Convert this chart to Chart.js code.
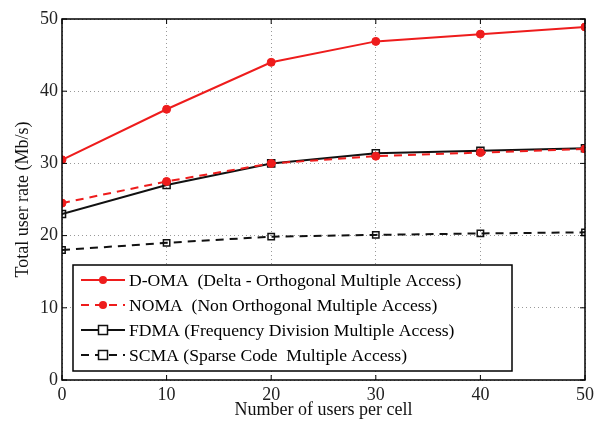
<!DOCTYPE html>
<html>
<head>
<meta charset="utf-8">
<script src="https://cdn.jsdelivr.net/npm/chart.js@4"></script>
<style>
  html, body { margin: 0; padding: 0; background: #fff; }
  #wrap { width: 598px; height: 421px; }
</style>
</head>
<body>
<div id="wrap"><canvas id="myChart" width="598" height="421"></canvas></div>
<script>
// Data
const users = [0, 10, 20, 30, 40, 50];
const domaRate = [30.5, 37.5, 44, 46.9, 47.9, 48.9];
const nomaRate = [24.5, 27.5, 30, 31.0, 31.5, 32.0];
const fdmaRate = [23, 27, 30, 31.4, 31.75, 32.1];
const scmaRate = [18, 19, 19.85, 20.1, 20.3, 20.45];
const yTicks = [0, 10, 20, 30, 40, 50];
const seriesNames = [
    'D-OMA  (Delta - Orthogonal Multiple Access)',
    'NOMA  (Non Orthogonal Multiple Access)',
    'FDMA (Frequency Division Multiple Access)',
    'SCMA (Sparse Code  Multiple Access)'
];

const FONT = '"Liberation Serif", "Times New Roman", serif';
const RED = '#ee1c1c';

function pts(ys) {
    return users.map((u, i) => ({ x: u, y: ys[i] }));
}

const datasets = [
    { label: seriesNames[0], data: pts(domaRate), borderColor: RED, backgroundColor: RED,
      borderWidth: 2, pointStyle: 'circle', pointRadius: 4, pointBorderWidth: 1 },
    { label: seriesNames[1], data: pts(nomaRate), borderColor: RED, backgroundColor: RED,
      borderWidth: 2, borderDash: [8, 6], pointStyle: 'circle', pointRadius: 4, pointBorderWidth: 1 },
    { label: seriesNames[2], data: pts(fdmaRate), borderColor: '#111', backgroundColor: 'rgba(0,0,0,0)',
      borderWidth: 2, pointStyle: 'rect', pointRadius: 5, pointBorderWidth: 1.5 },
    { label: seriesNames[3], data: pts(scmaRate), borderColor: '#111', backgroundColor: 'rgba(0,0,0,0)',
      borderWidth: 2, borderDash: [8, 6], pointStyle: 'rect', pointRadius: 4.5, pointBorderWidth: 1.5 }
];

// frame, inward tick marks and the boxed legend (matlab style)
const framePlugin = {
    id: 'frame',
    afterDraw(chart) {
        const { ctx, chartArea: a, scales } = chart;
        ctx.save();
        ctx.strokeStyle = '#000';
        ctx.lineWidth = 1.5;
        ctx.setLineDash([]);
        ctx.strokeRect(a.left, a.top, a.right - a.left, a.bottom - a.top);
        ctx.lineWidth = 1;
        users.forEach(v => {
            const x = scales.x.getPixelForValue(v);
            ctx.beginPath();
            ctx.moveTo(x, a.bottom); ctx.lineTo(x, a.bottom - 5);
            ctx.moveTo(x, a.top); ctx.lineTo(x, a.top + 5);
            ctx.stroke();
        });
        yTicks.forEach(v => {
            const y = scales.y.getPixelForValue(v);
            ctx.beginPath();
            ctx.moveTo(a.left, y); ctx.lineTo(a.left + 5, y);
            ctx.moveTo(a.right, y); ctx.lineTo(a.right - 5, y);
            ctx.stroke();
        });

        // legend box
        const bx = a.left + 11, by = 265, bw = 439, bh = 106;
        ctx.fillStyle = '#fff';
        ctx.fillRect(bx, by, bw, bh);
        ctx.lineWidth = 1.5;
        ctx.strokeStyle = '#000';
        ctx.strokeRect(bx, by, bw, bh);
        const rows = [280, 305, 330, 355];
        ctx.font = '17.6px ' + FONT;
        ctx.textBaseline = 'middle';
        datasets.forEach((ds, i) => {
            const y = rows[i];
            ctx.strokeStyle = ds.borderColor;
            ctx.lineWidth = 2;
            ctx.setLineDash(ds.borderDash || []);
            ctx.beginPath();
            ctx.moveTo(bx + 8, y); ctx.lineTo(bx + 52, y);
            ctx.stroke();
            ctx.setLineDash([]);
            const mx = bx + 30;
            if (ds.pointStyle === 'circle') {
                ctx.fillStyle = ds.borderColor;
                ctx.beginPath();
                ctx.arc(mx, y, 4, 0, Math.PI * 2);
                ctx.fill();
            } else {
                ctx.fillStyle = '#fff';
                ctx.fillRect(mx - 4.5, y - 4.5, 9, 9);
                ctx.lineWidth = 1.5;
                ctx.strokeRect(mx - 4.5, y - 4.5, 9, 9);
            }
            ctx.fillStyle = '#000';
            ctx.fillText(ds.label, bx + 56, y + 1);
        });
        ctx.restore();
    }
};

const config = {
    type: 'line',
    data: { datasets: datasets },
    options: {
        responsive: false,
        animation: false,
        layout: { padding: { top: 19, right: 12, left: 0, bottom: 0 } },
        plugins: { legend: { display: false }, tooltip: { enabled: false } },
        scales: {
            x: {
                type: 'linear',
                min: 0, max: 50,
                afterBuildTicks: s => { s.ticks = users.map(v => ({ value: v })); },
                afterFit: s => { s.height = 41; },
                grid: { color: '#999', lineWidth: 1, drawTicks: false },
                border: { display: false, dash: [1, 3] },
                ticks: { color: '#222', font: { family: FONT, size: 18 }, padding: 4, maxRotation: 0 },
                title: { display: true, text: 'Number of users per cell', color: '#111',
                         font: { family: FONT, size: 18 }, padding: { top: -2, bottom: 0 } }
            },
            y: {
                min: 0, max: 50,
                afterBuildTicks: s => { s.ticks = yTicks.map(v => ({ value: v })); },
                afterFit: s => { s.width = 62; },
                grid: { color: '#999', lineWidth: 1, drawTicks: false },
                border: { display: false, dash: [1, 3] },
                ticks: { color: '#222', font: { family: FONT, size: 18 }, padding: 4 },
                title: { display: true, text: 'Total user rate (Mb/s)', color: '#111',
                         font: { family: FONT, size: 18 }, padding: { top: 12, bottom: 2 } }
            }
        }
    },
    plugins: [framePlugin]
};

const ctx = document.getElementById('myChart').getContext('2d');
const myChart = new Chart(ctx, config);
</script>
</body>
</html>
